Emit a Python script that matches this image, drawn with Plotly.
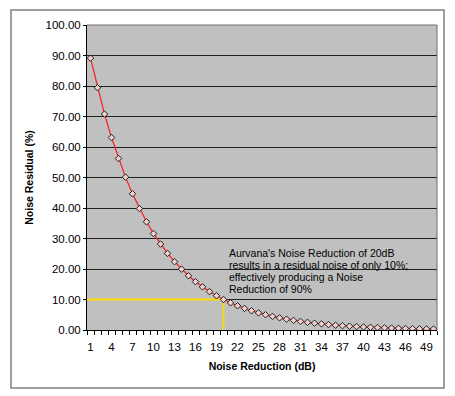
import plotly.graph_objects as go

noise_reduction_db = list(range(1, 51))
noise_residual_pct = [89.13, 79.43, 70.79, 63.10, 56.23, 50.12, 44.67, 39.81, 35.48, 31.62,
                      28.18, 25.12, 22.39, 19.95, 17.78, 15.85, 14.13, 12.59, 11.22, 10.00,
                      8.91, 7.94, 7.08, 6.31, 5.62, 5.01, 4.47, 3.98, 3.55, 3.16,
                      2.82, 2.51, 2.24, 2.00, 1.78, 1.58, 1.41, 1.26, 1.12, 1.00,
                      0.89, 0.79, 0.71, 0.63, 0.56, 0.50, 0.45, 0.40, 0.35, 0.32]
x_tick_labels = list(range(1, 51, 3))
highlight_db = 20
highlight_pct = 10
annotation_lines = ["Aurvana's Noise Reduction of 20dB",
                    "results in a residual noise of only 10%;",
                    "effectively producing a Noise",
                    "Reduction of 90%"]

FONT = "Liberation Sans, Arial, sans-serif"

# the page body has an 8px margin, so the figure is 8px smaller than the window
W, H = 447, 388
ML, MR, MT, MB = 79, 18, 17, 66
PW, PH = W - ML - MR, H - MT - MB

fig = go.Figure()
# yellow guide lines
fig.add_trace(go.Scatter(x=[0.5, highlight_db, highlight_db], y=[highlight_pct, highlight_pct, 0],
                         mode="lines", line=dict(color="#FFDA00", width=1.8),
                         hoverinfo="skip", showlegend=False))
fig.add_trace(go.Scatter(x=noise_reduction_db, y=noise_residual_pct, mode="lines+markers",
                         line=dict(color="#FF1A1A", width=1.2),
                         marker=dict(symbol="diamond", size=5, color="#F0D0D0",
                                     line=dict(color="#202020", width=1)),
                         showlegend=False))

fig.update_layout(
    width=W, height=H,
    margin=dict(l=ML, r=MR, t=MT, b=MB),
    paper_bgcolor="white", plot_bgcolor="#C0C0C0",
    font=dict(family=FONT, color="black", size=11.5),
    xaxis=dict(range=[0.5, 50.5], tickmode="array", tickvals=x_tick_labels,
               ticktext=[str(v) for v in x_tick_labels], ticks="", showgrid=False,
               zeroline=False, showline=True, linecolor="black", linewidth=1,
               automargin=False,
               tickfont=dict(size=11.5), ticklabelstandoff=6,
               minor=dict(ticks="outside", ticklen=4, tickcolor="black", tickmode="linear",
                          tick0=0.5, dtick=1, showgrid=False),
               title=dict(text="<b>Noise Reduction (dB)</b>", font=dict(size=10.5), standoff=10)),
    yaxis=dict(range=[0, 100], dtick=10, tickformat=".2f", ticks="outside", ticklen=3,
               tickcolor="black", showgrid=True, gridcolor="#202020", gridwidth=1,
               zeroline=False, showline=True, linecolor="black", linewidth=1,
               automargin=False,
               tickfont=dict(size=11.5),
               title=dict(text="<b>Noise Residual (%)</b>", font=dict(size=10.5), standoff=9)),
)

# annotation, one line each (12px line spacing as in the reference)
for i, line in enumerate(annotation_lines):
    ypix = 253 - 8 + 12 * i  # page pixel -> figure pixel
    fig.add_annotation(xref="paper", yref="paper", x=0.40, y=(MT + PH - ypix) / PH,
                       xanchor="left", yanchor="middle", align="left", showarrow=False,
                       text=line, font=dict(size=10.5, family=FONT, color="black"))

# plot area top/right border
fig.add_shape(type="path", xref="paper", yref="paper", path="M 0,1 L 1,1 L 1,0",
              line=dict(color="#707070", width=1), layer="above")
# outer chart border
fig.add_shape(type="rect", xref="paper", yref="paper",
              x0=-76 / PW, x1=1 + 7 / PW, y0=-58 / PH, y1=1 + 15 / PH,
              line=dict(color="#808080", width=1.5), fillcolor="rgba(0,0,0,0)", layer="above")

fig.write_html("out.html")
